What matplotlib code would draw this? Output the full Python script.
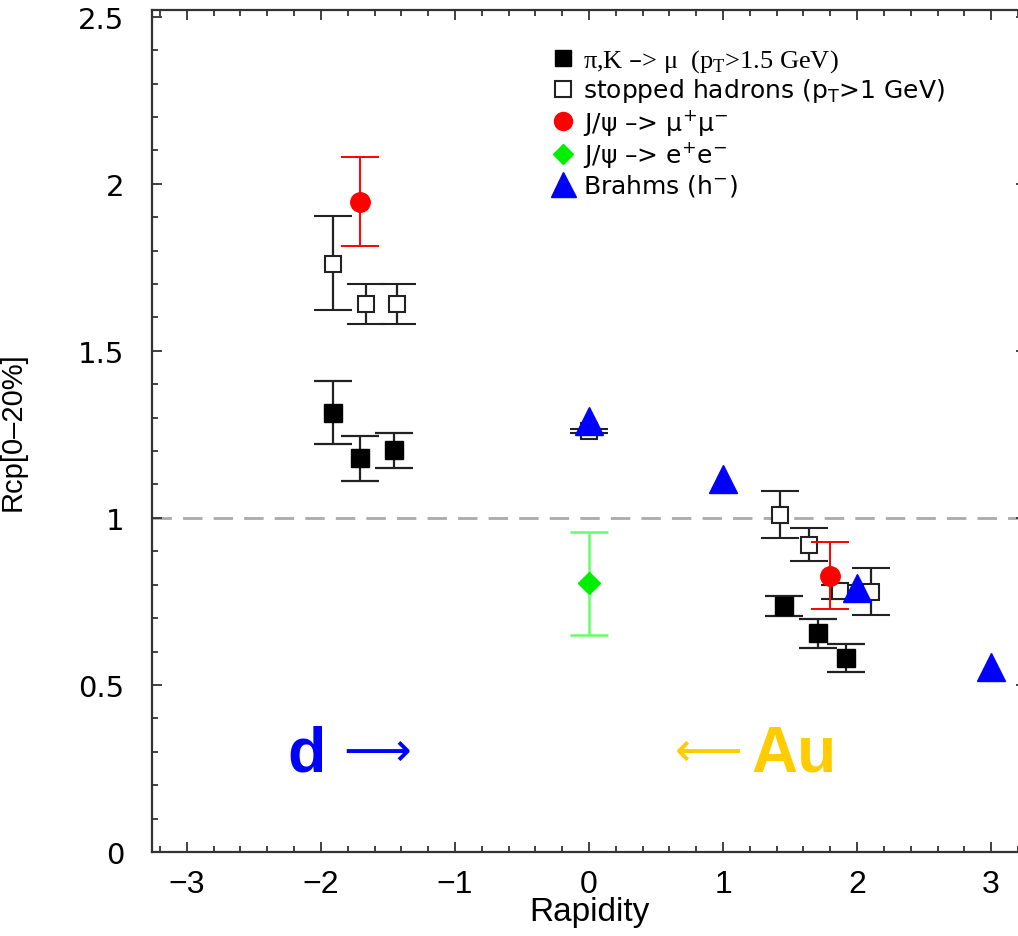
import numpy as np
import matplotlib
matplotlib.use("Agg")
import matplotlib.pyplot as plt
from matplotlib.lines import Line2D

plt.rcParams['font.family'] = ['Liberation Sans', 'DejaVu Sans']

# pi,K -> mu (pT > 1.5 GeV)
pik_x = [-1.91, -1.71, -1.455, 1.455, 1.71, 1.92]
pik_y = [1.314, 1.18, 1.204, 0.737, 0.656, 0.581]
pik_lo = [1.22, 1.11, 1.15, 0.707, 0.611, 0.539]
pik_hi = [1.41, 1.245, 1.254, 0.766, 0.698, 0.623]

# stopped hadrons (pT > 1 GeV)
stop_x = [-1.91, -1.66, -1.43, 0.0, 1.425, 1.64, 1.87, 2.10]
stop_y = [1.76, 1.64, 1.64, 1.26, 1.009, 0.919, 0.78, 0.778]
stop_lo = [1.623, 1.58, 1.58, 1.255, 0.94, 0.871, 0.757, 0.71]
stop_hi = [1.904, 1.70, 1.70, 1.265, 1.081, 0.97, 0.80, 0.85]

# J/psi -> mu+ mu-
jmu_x = [-1.71, 1.80]
jmu_y = [1.946, 0.826]
jmu_lo = [1.814, 0.728]
jmu_hi = [2.08, 0.928]

# J/psi -> e+ e-
jee_x = [0.0]
jee_y = [0.805]
jee_lo = [0.65]
jee_hi = [0.958]

# Brahms (h-)
brahms_x = [0.0, 1.0, 2.0, 3.0]
brahms_y = [1.29, 1.117, 0.79, 0.553]

legend_labels = [
    '\u03c0,K \u2013> \u03bc  (p$_\\mathregular{T}$>1.5 GeV)',
    'stopped hadrons (p$_\\mathregular{T}$>1 GeV)',
    'J/\u03c8 \u2013> \u03bc$^\\mathregular{+}$\u03bc$^\\mathregular{\u2212}$',
    'J/\u03c8 \u2013> e$^\\mathregular{+}$e$^\\mathregular{\u2212}$',
    'Brahms (h$^\\mathregular{\u2212}$)',
]


def yerr(y, lo, hi):
    y = np.array(y)
    return [y - np.array(lo), np.array(hi) - y]


fig = plt.figure(figsize=(10.18, 9.37), dpi=100)
ax = fig.add_axes([152 / 1018, 84 / 937, 874 / 1018, 842 / 937])

ax.axhline(1.0, color='#aaaaaa', lw=2, dashes=(7, 4), zorder=1)

ax.errorbar(pik_x, pik_y, yerr=yerr(pik_y, pik_lo, pik_hi), fmt='s', ms=13,
            mfc='black', mec='black', ecolor='#222222', elinewidth=1.6,
            capsize=14, capthick=1.6, zorder=3)
ax.errorbar(stop_x, stop_y, yerr=yerr(stop_y, stop_lo, stop_hi), fmt='s', ms=12,
            mfc='white', mec='#222222', mew=1.5, ecolor='#222222', elinewidth=1.6,
            capsize=14, capthick=1.6, zorder=3)
ax.errorbar(jmu_x, jmu_y, yerr=yerr(jmu_y, jmu_lo, jmu_hi), fmt='o', ms=14,
            mfc='red', mec='red', ecolor='red', elinewidth=1.4,
            capsize=14, capthick=1.4, zorder=4)
ax.errorbar(jee_x, jee_y, yerr=yerr(jee_y, jee_lo, jee_hi), fmt='D', ms=11,
            mfc='#00ee00', mec='#00ee00', ecolor='#66ff66', elinewidth=1.8,
            capsize=14, capthick=1.8, zorder=4)
ax.plot(brahms_x, brahms_y, '^', ms=20, color='#0000ff', zorder=5)

ax.set_xlim(-3.26, 3.26)
ax.set_ylim(0, 2.52)
ax.set_xticks([-3, -2, -1, 0, 1, 2, 3])
ax.set_xticklabels(['\u22123', '\u22122', '\u22121', '0', '1', '2', '3'])
ax.set_xticks(np.arange(-3.2, 3.21, 0.2), minor=True)
ax.set_yticks([0, 0.5, 1, 1.5, 2, 2.5])
ax.set_yticklabels(['0', '0.5', '1', '1.5', '2', '2.5'], family='DejaVu Sans')
ax.set_yticks(np.arange(0, 2.51, 0.1), minor=True)
ax.tick_params(which='both', direction='in', top=True, right=True, width=1.3, color='#333333')
ax.tick_params(which='major', length=7)
ax.tick_params(which='minor', length=4)
ax.tick_params(axis='x', labelsize=23, pad=12)
ax.tick_params(axis='y', labelsize=21, pad=20)
for s in ax.spines.values():
    s.set_linewidth(1.6)
    s.set_color('#333333')

ax.set_xlabel('Rapidity', fontsize=24)
ax.xaxis.set_label_coords(0.5, -0.052)
ax.set_ylabel('Rcp[0\u201320%]', fontsize=21)
ax.yaxis.set_label_coords(-0.143, 0.5)

# beam direction labels
ax.text(-2.25, 0.243, 'd', color='#0000ff', fontsize=45, fontweight='bold')
ax.text(-1.83, 0.26, '\u27f6', color='#0000ff', fontsize=34, family='DejaVu Sans')
ax.text(0.64, 0.26, '\u27f5', color='#ffcc00', fontsize=34, family='DejaVu Sans')
ax.text(1.21, 0.243, 'Au', color='#ffcc00', fontsize=46, fontweight='bold')

handles = [
    Line2D([], [], ls='none', marker='s', ms=12, mfc='black', mec='black'),
    Line2D([], [], ls='none', marker='s', ms=11, mfc='white', mec='#222222', mew=1.5),
    Line2D([], [], ls='none', marker='o', ms=13, mfc='red', mec='red'),
    Line2D([], [], ls='none', marker='D', ms=10, mfc='#00ee00', mec='#00ee00'),
    Line2D([], [], ls='none', marker='^', ms=18, mfc='#0000ff', mec='#0000ff'),
]
leg = ax.legend(handles, legend_labels, loc='upper left', bbox_to_anchor=(0.445, 0.968),
                frameon=False, prop={'family': 'DejaVu Sans', 'size': 18},
                handlelength=1.0, handletextpad=0.3, labelspacing=0.1, borderaxespad=0)
leg.get_texts()[0].set_family(['Liberation Serif', 'DejaVu Serif'])
leg.get_texts()[0].set_fontsize(19)

fig.savefig('out.png', dpi=100)
